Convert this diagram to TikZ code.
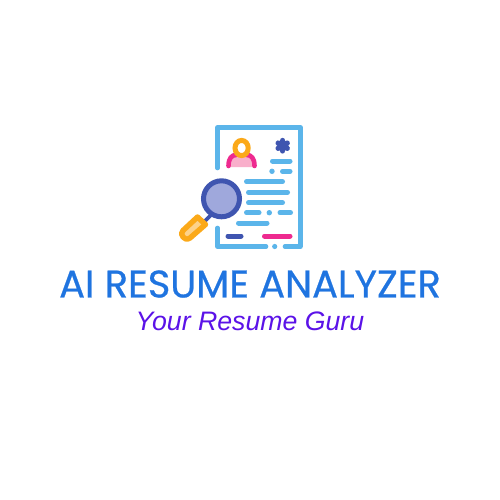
\documentclass[tikz,border=0pt]{standalone}
\usepackage{fontspec}
\setmainfont{Liberation Sans}
\newfontfamily\titlefont[FakeBold=0.6]{Poppins}
\usepackage{xcolor}
\definecolor{sheetblue}{HTML}{5BB5EA}
\definecolor{darkblue}{HTML}{3F55B0}
\definecolor{hotpink}{HTML}{EE2A8F}
\definecolor{softpink}{HTML}{F9AFCB}
\definecolor{amber}{HTML}{FBA919}
\definecolor{softamber}{HTML}{FDD28A}
\definecolor{lens}{HTML}{9FA8DC}
\definecolor{titleblue}{HTML}{1F74E0}
\definecolor{guru}{HTML}{5B12E8}
\tikzset{
  sheet/.style={draw=sheetblue,line width=4.6pt,line cap=round,line join=round},
  textline/.style={draw=sheetblue,line width=5pt,line cap=round},
}
\begin{document}
\begin{tikzpicture}[x=1pt,y=-1pt]
    \useasboundingbox (0,0) rectangle (500,500);
    \fill[white] (0,0) rectangle (500,500);

    % sheet
    \draw[sheet] (217.5,168) -- (217.5,127.3) -- (300.3,127.3) -- (300.3,246.5) -- (285,246.5);
    \draw[sheet] (217.5,228) -- (217.5,246.5) -- (266,246.5);
    \fill[sheetblue] (274.7,246.5) circle (2.6);

    % person
    \fill[softpink] (228,167) arc (180:360:13.5 and 13.5) -- cycle;
    \draw[hotpink,line width=4.6pt,line cap=round] (228.5,166) .. controls (228.5,158) and (232,155) .. (236,155);
    \draw[hotpink,line width=4.6pt,line cap=round] (254.5,166) .. controls (254.5,158) and (251,155) .. (247,155);
    \draw[amber,fill=white,line width=5pt] (241.6,148) ellipse (6.6 and 7.6);

    % star
    \foreach \ang in {0,60,120}
      \draw[darkblue,line width=5.4pt,line cap=round] (282.7,145.7) ++(\ang+90:5.2) -- ++(\ang+270:10.4);

    % text lines
    \draw[textline] (272.5,161) -- (290,161);
    \fill[sheetblue] (272,171.3) circle (2.7);
    \draw[textline] (282.5,171.3) -- (290,171.3);
    \draw[textline] (246.5,181.7) -- (282.5,181.7);
    \draw[textline] (248.5,192.3) -- (287.5,192.3);
    \draw[textline] (248.5,202.7) -- (282.5,202.7);
    \draw[textline] (246.5,212.7) -- (259,212.7);
    \fill[sheetblue] (269.3,212.7) circle (2.7);
    \draw[textline] (280,212.7) -- (290.5,212.7);
    \draw[textline] (238.5,223) -- (267,223);
    \draw[darkblue,line width=5pt,line cap=round] (228,236) -- (241,236);
    \draw[hotpink,line width=5pt,line cap=round] (264.5,236) -- (290,236);

    % magnifier
    \draw[darkblue,line width=3.6pt] (213,213) -- (204,222);
    \draw[amber,fill=softamber,line width=5.4pt,line join=round,line cap=round]
      (197.5,217) -- (205.5,224.5) -- (190,238) .. controls (187,240) and (184.5,239) .. (183,237)
      .. controls (181,235) and (181,232.5) .. (183,230.5) -- cycle;
    \draw[darkblue,fill=lens,line width=5pt] (221.5,198.8) circle (18);

    \node[text=titleblue,font=\titlefont\fontsize{38.4}{40}\selectfont,anchor=center] (title) at (250,284) {AI RESUME ANALYZER};
    \node[text=guru,font=\itshape\fontsize{26.7}{29}\selectfont,anchor=center] (tagline) at (250,321) {Your Resume Guru};
\end{tikzpicture}
\end{document}
